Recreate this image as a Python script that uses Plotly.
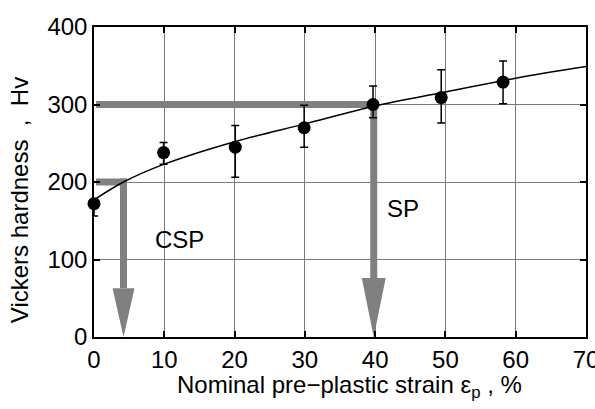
import plotly.graph_objects as go

strain = [0, 9.9, 20.1, 29.9, 39.7, 49.4, 58.2]
hardness = [172, 238, 245, 270, 300, 309, 329]
err_upper = [178, 251, 273, 299, 324, 345, 356]
err_lower = [156, 223, 206, 245, 283, 276, 301]

# Fitted curve
fit_x = [0, 4.2, 10, 20, 30, 40, 50, 60, 70]
fit_y = [177, 200, 223, 252, 275, 298, 316, 334, 349]

# Reference arrows
arrow_labels = ["CSP", "SP"]
arrow_x = [4.2, 39.8]
arrow_y = [200, 300]
label_x = [12.1, 43.9]
label_y = [126, 166]

x_ticks = [0, 10, 20, 30, 40, 50, 60, 70]
y_ticks = [0, 100, 200, 300, 400]

x_title = "Nominal pre−plastic strain ε<sub>p</sub> , %"
y_title = "Vickers hardness\u00a0 ,\u00a0 Hv"

FONT = "Liberation Sans, Arial, sans-serif"
GRAY = "#808080"
FS = 24

fig = go.Figure()

fig.add_trace(go.Scatter(
    x=fit_x, y=fit_y, mode="lines",
    line=dict(color="black", width=1.5, shape="spline", smoothing=1.0),
    hoverinfo="skip", showlegend=False,
))

fig.add_trace(go.Scatter(
    x=strain, y=hardness, mode="markers",
    marker=dict(color="black", size=13),
    error_y=dict(type="data", symmetric=False,
                 array=[u - h for u, h in zip(err_upper, hardness)],
                 arrayminus=[h - l for h, l in zip(hardness, err_lower)],
                 color="black", thickness=1.5, width=4),
    cliponaxis=False, showlegend=False,
))

# arrow styles
head_top = [63, 76]
head_hw = [1.56, 1.7]
shapes = []
for ax, ay, ht, hw in zip(arrow_x, arrow_y, head_top, head_hw):
    shapes.append(dict(type="line", xref="x", yref="y", x0=0.3, x1=ax + 0.5, y0=ay, y1=ay,
                       line=dict(color=GRAY, width=7), layer="between"))
    shapes.append(dict(type="line", xref="x", yref="y", x0=ax, x1=ax, y0=ay + 4.5, y1=ht,
                       line=dict(color=GRAY, width=7), layer="between"))
    shapes.append(dict(type="path", xref="x", yref="y",
                       path=f"M {ax - hw},{ht} L {ax + hw},{ht} L {ax},0 Z",
                       fillcolor=GRAY, line=dict(width=0), layer="between"))

annotations = []
for t, lx, ly in zip(arrow_labels, label_x, label_y):
    annotations.append(dict(x=lx, y=ly, xref="x", yref="y", text=t, showarrow=False,
                            font=dict(family=FONT, size=FS, color="black")))

# axis titles
annotations.append(dict(x=0.52, y=-0.161, xref="paper", yref="paper", text=x_title,
                        showarrow=False, xanchor="center", yanchor="middle",
                        font=dict(family=FONT, size=FS, color="black")))
annotations.append(dict(x=-0.150, y=0.442, xref="paper", yref="paper", text=y_title,
                        showarrow=False, xanchor="center", yanchor="middle", textangle=-90,
                        font=dict(family=FONT, size=FS, color="black")))

fig.update_layout(
    width=595, height=409,
    margin=dict(l=94, r=9, t=27, b=72, autoexpand=False),
    paper_bgcolor="white", plot_bgcolor="white",
    font=dict(family=FONT, size=FS, color="black"),
    shapes=shapes, annotations=annotations,
    showlegend=False,
)

fig.update_xaxes(
    range=[0, 70], tickvals=x_ticks, ticktext=[str(v) for v in x_ticks],
    showgrid=True, gridcolor="#7a7a7a", gridwidth=1,
    showline=True, linecolor="black", linewidth=1.5, mirror="ticks",
    ticks="inside", ticklen=6, tickcolor="black", tickwidth=1.5,
    zeroline=False, ticklabeloverflow="allow", automargin=False,
    tickfont=dict(family=FONT, size=FS, color="black"),
)
fig.update_yaxes(
    range=[0, 400], tickvals=y_ticks, ticktext=[str(v) for v in y_ticks],
    showgrid=True, gridcolor="#7a7a7a", gridwidth=1,
    showline=True, linecolor="black", linewidth=1.5, mirror="ticks",
    ticks="inside", ticklen=6, tickcolor="black", tickwidth=1.5,
    zeroline=False, ticklabeloverflow="allow", automargin=False,
    tickfont=dict(family=FONT, size=FS, color="black"),
)

fig.write_html("out.html")
